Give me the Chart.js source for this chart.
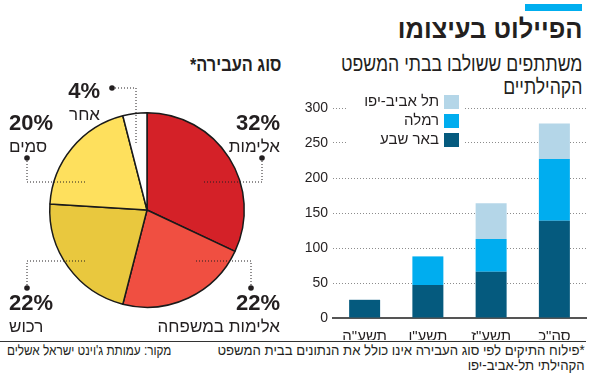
<!DOCTYPE html>
<html lang="he" dir="rtl">
<head>
<meta charset="utf-8">
<script src="https://cdn.jsdelivr.net/npm/chart.js@4"></script>
<style>
  body { margin: 0; background: #fff; }
  #wrap { position: relative; width: 590px; height: 373px; overflow: hidden; font-family: "Liberation Sans", "DejaVu Sans Condensed", sans-serif; color: #231f20; }
  .abs { position: absolute; white-space: nowrap; }
  #bluebar { left: 525px; top: 4px; width: 57px; height: 7px; background: #00aeef; }
  #title { right: 8px; top: 14px; font-size: 26px; font-weight: bold; line-height: 30px; transform: scaleX(0.98); transform-origin: right top; }
  #subtitle { right: 8px; top: 52px; font-size: 21px; line-height: 23px; text-align: right; transform: scaleX(0.84); transform-origin: right top; }
  #pieTitle { right: 309px; top: 55px; font-size: 19px; font-weight: bold; line-height: 20px; transform: scaleX(0.86); transform-origin: right top; }
  #rule { left: 0; top: 341px; width: 586px; height: 0; border-top: 1.5px solid #333; }
  #note { right: 5px; top: 343px; font-size: 14px; line-height: 15px; text-align: right; transform: scaleX(0.94); transform-origin: right top; }
  #source { left: 7px; top: 343px; font-size: 14px; line-height: 15px; transform: scaleX(0.84); transform-origin: left top; }
  canvas { position: absolute; }
</style>
</head>
<body>
<div id="wrap">
  <div id="bluebar" class="abs"></div>
  <div id="title" class="abs">הפיילוט בעיצומו</div>
  <div id="subtitle" class="abs">משתתפים ששולבו בבתי המשפט<br>הקהילתיים</div>
  <div id="pieTitle" class="abs">סוג העבירה*</div>
  <div style="position:absolute; left:290px; top:90px; width:300px; height:250px;"><canvas id="bars" width="300" height="250"></canvas></div>
  <div style="position:absolute; left:0; top:40px; width:290px; height:300px;"><canvas id="pie" width="290" height="300"></canvas></div>
  <div id="rule" class="abs"></div>
  <div id="note" class="abs">*פילוח התיקים לפי סוג העבירה אינו כולל את הנתונים בבית המשפט<br>הקהילתי תל-אביב-יפו</div>
  <div id="source" class="abs">מקור: עמותת ג'וינט ישראל אשלים</div>
</div>
<script>
const FONT = '"Liberation Sans", "DejaVu Sans Condensed", sans-serif';

// שנים (ציר X)
const years = ['תשע"ה', 'תשע"ו', 'תשע"ז', 'סה"כ'];
// משתתפים לפי בית משפט
const beerSheva = [26, 47, 66, 139];
const ramla = [0, 41, 47, 88];
const telAviv = [0, 0, 51, 51];
const yTicks = [0, 50, 100, 150, 200, 250, 300];

// סוג העבירה
const crimeLabels = ['אלימות', 'אלימות במשפחה', 'רכוש', 'סמים', 'אחר'];
const crimeShares = [32, 22, 22, 20, 4];

const barColors = { bs: '#055a7e', ramla: '#00adef', ta: '#b4d6e8' };
const pieColors = ['#d42128', '#f04f41', '#e9c83e', '#fee05d', '#ffffff'];

// מקרא עם רקע לבן מעל קווי הרשת
const barLegend = {
  id: 'barLegend',
  afterDraw(chart) {
    const ctx = chart.ctx;
    ctx.save();
    ctx.fillStyle = '#fff';
    ctx.fillRect(56, 2, 117, 58);
    const items = chart.data.datasets.slice().reverse();
    ctx.font = '15px ' + FONT;
    ctx.textAlign = 'right';
    ctx.textBaseline = 'middle';
    items.forEach((ds, i) => {
      const y = 5 + i * 19;
      ctx.fillStyle = ds.backgroundColor;
      ctx.fillRect(154, y, 15, 14);
      ctx.fillStyle = '#231f20';
      ctx.fillText(ds.label, 149, y + 7);
    });
    ctx.restore();
  }
};

new Chart(document.getElementById('bars'), {
  type: 'bar',
  data: {
    labels: years,
    datasets: [
      { label: 'באר שבע', data: beerSheva, backgroundColor: barColors.bs },
      { label: 'רמלה', data: ramla, backgroundColor: barColors.ramla },
      { label: 'תל אביב-יפו', data: telAviv, backgroundColor: barColors.ta }
    ]
  },
  options: {
    responsive: false,
    animation: false,
    layout: { padding: { top: 18, right: 4, left: 0, bottom: 0 } },
    datasets: { bar: { barPercentage: 0.49, categoryPercentage: 1, borderWidth: 0 } },
    plugins: { legend: { display: false }, tooltip: { enabled: false } },
    scales: {
      x: {
        stacked: true,
        grid: { display: false },
        border: { display: true, color: '#555', width: 2 },
        ticks: { color: '#231f20', font: { family: FONT, size: 15 }, padding: 2 },
        afterFit(s) { s.height = 22; }
      },
      y: {
        stacked: true,
        min: 0, max: 300,
        afterBuildTicks(s) { s.ticks = yTicks.map(v => ({ value: v })); },
        grid: { color: '#8c8c8c', lineWidth: 1, drawTicks: false },
        border: { display: false, dash: [1, 2] },
        ticks: { color: '#231f20', font: { family: FONT, size: 14 }, padding: 5 },
        afterFit(s) { s.width = 43; }
      }
    }
  },
  plugins: [barLegend]
});

// מיקום תוויות הפאי וקווי ההפניה (קואורדינטות הקנבס)
const pieLabelLayout = [
  { x: 280, align: 'right', pctY: 90, txtY: 112, path: [[262, 118], [262, 142], [204, 142]] },
  { x: 280, align: 'right', pctY: 270, txtY: 292, path: [[251, 248], [251, 221], [195, 221]] },
  { x: 9, align: 'left', pctY: 270, txtY: 292, path: [[27, 248], [27, 221], [85, 221]] },
  { x: 9, align: 'left', pctY: 90, txtY: 112, path: [[27, 118], [27, 142], [85, 142]] },
  { x: 100, align: 'right', pctY: 58, txtY: 80, path: [[112, 48], [136, 48], [136, 105]] }
];

const pieLabels = {
  id: 'pieLabels',
  afterDraw(chart) {
    const ctx = chart.ctx;
    const vals = chart.data.datasets[0].data;
    ctx.save();
    pieLabelLayout.forEach((l, i) => {
      ctx.strokeStyle = '#231f20';
      ctx.lineWidth = 1;
      ctx.setLineDash([1, 2]);
      ctx.beginPath();
      l.path.forEach((p, j) => j ? ctx.lineTo(p[0], p[1]) : ctx.moveTo(p[0], p[1]));
      ctx.stroke();
      ctx.setLineDash([]);
      ctx.fillStyle = '#231f20';
      ctx.beginPath();
      ctx.arc(l.path[0][0], l.path[0][1], 2.8, 0, Math.PI * 2);
      ctx.fill();
      ctx.textAlign = l.align;
      ctx.textBaseline = 'alphabetic';
      ctx.font = 'bold 22px ' + FONT;
      ctx.fillText(vals[i] + '%', l.x, l.pctY);
      ctx.font = '17px ' + FONT;
      ctx.fillText(chart.data.labels[i], l.x, l.txtY);
    });
    ctx.restore();
  }
};

new Chart(document.getElementById('pie'), {
  type: 'pie',
  data: {
    labels: crimeLabels,
    datasets: [{ data: crimeShares, backgroundColor: pieColors, borderColor: '#1a1a1a', borderWidth: 1.5 }]
  },
  options: {
    responsive: false,
    animation: false,
    layout: { padding: { left: 49, right: 45, top: 72, bottom: 32 } },
    plugins: { legend: { display: false }, tooltip: { enabled: false } }
  },
  plugins: [pieLabels]
});
</script>
</body>
</html>
